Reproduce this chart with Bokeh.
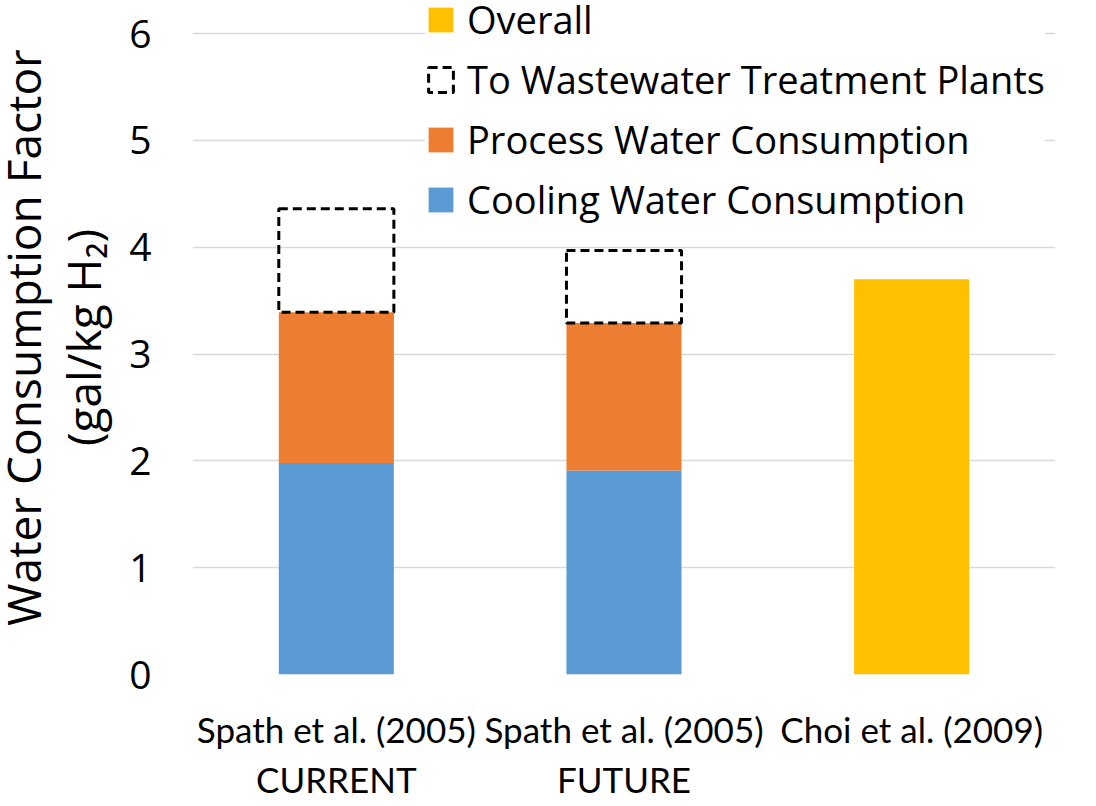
from bokeh.plotting import figure
from bokeh.models import (FactorRange, Range1d, Legend, LegendItem, FixedTicker,
                          ColumnDataSource, Title)
from bokeh.transform import stack
from bokeh.embed import file_html
from bokeh.resources import INLINE

# ---- data ----
categories = ["Spath et al. (2005)\nCURRENT", "Spath et al. (2005)\nFUTURE", "Choi et al. (2009)"]

stack_categories = ["Spath et al. (2005)\nCURRENT", "Spath et al. (2005)\nFUTURE"]
cooling = [1.98, 1.91]
process = [1.41, 1.38]
wastewater = [0.97, 0.68]

overall_categories = ["Choi et al. (2009)"]
overall = [3.70]

y_ticks = [0, 1, 2, 3, 4, 5, 6]
y_title_line1 = "Water Consumption Factor"
y_title_line2 = "(gal/kg H\u2082)"

BLUE = "#5B9BD5"
ORANGE = "#ED7D31"
GOLD = "#FFC000"
GRID = "#D9D9D9"

Y_TOP = 6.309  # leaves room above the "6" gridline for the legend

p = figure(x_range=FactorRange(*categories, range_padding=0), y_range=Range1d(0, Y_TOP),
           width=1096, height=806, output_backend="svg", toolbar_location=None,
           min_border_left=192, min_border_right=41, min_border_top=0, min_border_bottom=132)
p.outline_line_color = None
p.background_fill_color = "white"
p.border_fill_color = "white"

src = ColumnDataSource(dict(x=stack_categories, cooling=cooling, process=process, wastewater=wastewater))
r_cool = p.vbar(x="x", bottom=0, top=stack("cooling"), width=0.4, source=src,
                fill_color=BLUE, line_color=None)
r_proc = p.vbar(x="x", bottom=stack("cooling"), top=stack("cooling", "process"), width=0.4,
                source=src, fill_color=ORANGE, line_color=None)
r_ww = p.vbar(x="x", bottom=stack("cooling", "process"), top=stack("cooling", "process", "wastewater"),
              width=0.4, source=src, fill_color=None, line_color="black", line_dash="9 5",
              line_width=3)
r_over = p.vbar(x=overall_categories, top=overall, width=0.4, fill_color=GOLD, line_color=None)

# grid
p.xgrid.grid_line_color = None
p.ygrid.grid_line_color = GRID
p.ygrid.grid_line_width = 1.5
p.yaxis.ticker = FixedTicker(ticks=y_ticks)

# y axis
p.yaxis.axis_line_color = None
p.yaxis.major_tick_line_color = None
p.yaxis.minor_tick_line_color = None
p.yaxis.major_tick_out = 0
p.yaxis.major_tick_in = 0
p.yaxis.major_label_text_font = "Open Sans"
p.yaxis.major_label_text_font_size = "39px"
p.yaxis.major_label_text_color = "black"
p.yaxis.major_label_standoff = 41

# y title as two stacked titles in the left panel
t2 = Title(text=y_title_line2, align="center", text_font="Open Sans", text_font_size="46px",
           text_font_style="normal", text_color="black", standoff=26, offset=-9)
t1 = Title(text=y_title_line1, align="center", text_font="Open Sans", text_font_size="46px",
           text_font_style="normal", text_color="black", standoff=-34, offset=-9)
p.add_layout(t2, "left")
p.add_layout(t1, "left")

# x axis
xa = p.xaxis[0]
xa.axis_line_color = None
xa.major_tick_line_color = None
xa.minor_tick_line_color = None
xa.major_tick_out = 0
xa.major_tick_in = 0
xa.major_label_text_font = "Lato"
xa.major_label_text_font_size = "35px"
xa.major_label_text_color = "black"
xa.major_label_standoff = 33

legend = Legend(items=[
    LegendItem(label="Overall", renderers=[r_over]),
    LegendItem(label="To Wastewater Treatment Plants", renderers=[r_ww]),
    LegendItem(label="Process Water Consumption", renderers=[r_proc]),
    LegendItem(label="Cooling Water Consumption", renderers=[r_cool]),
], location=(233, 449), glyph_width=31, glyph_height=31, label_height=25, label_standoff=11,
   spacing=8, padding=15, margin=0, border_line_color=None, background_fill_color="white",
   background_fill_alpha=1.0, label_text_font="Open Sans", label_text_font_size="38px",
   label_text_color="black")
p.add_layout(legend)

open("out.html", "w").write(file_html(p, INLINE))
